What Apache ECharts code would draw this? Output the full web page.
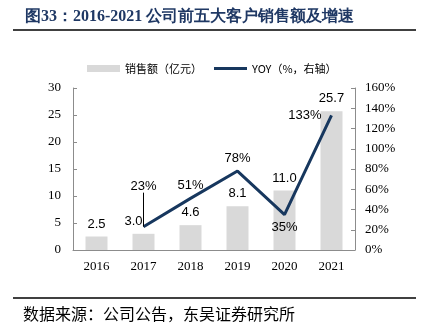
<!DOCTYPE html>
<html><head><meta charset="utf-8">
<script src="https://cdn.jsdelivr.net/npm/echarts@6/dist/echarts.min.js"></script>
<style>html,body{margin:0;padding:0;background:#fff}#c{width:422px;height:331px}</style>
</head><body><div id="c"></div>
<script>
const categories = ['2016','2017','2018','2019','2020','2021'];
const sales = [2.5, 3.0, 4.6, 8.1, 11.0, 25.7];
const yoy = [null, 23, 51, 78, 35, 133];
const leftTicks = [0, 30, 5];
const rightTicks = [0, 160, 20];

const navy = '#17375e';
const axisColor = '#8c8c8c';
const serif = '"Liberation Serif","Times New Roman",serif';
const sans = '"Liberation Sans",Arial,sans-serif';

const barData = sales.map((v, i) => {
  const d = {value: v};
  if (i === 1) d.label = {offset: [-10, 0]};
  return d;
});
const lineLabelPos = [null, 'top', 'top', 'top', 'bottom', 'left'];
const lineData = yoy.map((v, i) => {
  if (v === null) return null;
  const d = {value: v, label: {position: lineLabelPos[i]}};
  if (i === 1) d.labelLine = {show: true};
  if (i === 2) d.label.offset = [-5, 0];
  if (i === 5) d.label.distance = 10;
  return d;
});

const chart = echarts.init(document.getElementById('c'));
chart.setOption({
  animation: false,
  backgroundColor: '#fff',
  title: {
    text: '图33：2016-2021 公司前五大客户销售额及增速',
    left: 20, top: 4,
    textStyle: {color: '#1f3864', fontSize: 16, fontWeight: 'bold', fontFamily: serif}
  },
  graphic: [
    {type: 'line', shape: {x1: 13, y1: 30, x2: 416, y2: 30}, style: {stroke: '#000', lineWidth: 1.5}},
    {type: 'line', shape: {x1: 13, y1: 298, x2: 416, y2: 298}, style: {stroke: '#000', lineWidth: 1.5}},
    {type: 'text', left: 23, top: 306, style: {text: '数据来源：公司公告，东吴证券研究所', fontSize: 16, fill: '#000', fontFamily: '"Noto Sans CJK SC",sans-serif'}}
  ],
  legend: {
    top: 58, left: 82, itemGap: 12,
    textStyle: {fontSize: 11, color: '#000', fontFamily: '"Noto Sans CJK SC",sans-serif'},
    data: [
      {name: '销售额（亿元）', icon: 'rect', itemStyle: {color: '#d9d9d9'}},
      {name: 'YOY（%，右轴）', icon: 'path://M0,0H33V3H0Z', itemStyle: {color: navy}}
    ],
    itemWidth: 33, itemHeight: 7
  },
  grid: {left: 73, right: 67, top: 88, bottom: 81},
  xAxis: {
    type: 'category', data: categories,
    axisLine: {lineStyle: {color: axisColor}},
    axisTick: {inside: true, length: 4, lineStyle: {color: axisColor}},
    axisLabel: {color: '#000', fontSize: 13, fontFamily: serif, margin: 10}
  },
  yAxis: [
    {type: 'value', min: leftTicks[0], max: leftTicks[1], interval: leftTicks[2],
     axisLine: {show: true, lineStyle: {color: axisColor}},
     axisTick: {show: true, inside: true, length: 4, lineStyle: {color: axisColor}},
     splitLine: {show: false},
     axisLabel: {color: '#000', fontSize: 13, fontFamily: serif, margin: 12}},
    {type: 'value', min: rightTicks[0], max: rightTicks[1], interval: rightTicks[2],
     axisLine: {show: true, lineStyle: {color: axisColor}},
     axisTick: {show: true, inside: true, length: 4, lineStyle: {color: axisColor}},
     splitLine: {show: false},
     axisLabel: {color: '#000', fontSize: 13, fontFamily: serif, margin: 10, formatter: '{value}%'}}
  ],
  series: [
    {name: '销售额（亿元）', type: 'bar', data: barData, barWidth: 22,
     itemStyle: {color: '#d9d9d9'},
     label: {show: true, position: 'top', distance: 6, color: '#000', fontSize: 13, fontFamily: sans,
       formatter: p => p.value.toFixed(1)}},
    {name: 'YOY（%，右轴）', type: 'line', yAxisIndex: 1, data: lineData,
     symbol: 'circle', symbolSize: 0.1, showSymbol: true,
     lineStyle: {color: navy, width: 3}, itemStyle: {color: navy},
     label: {show: true, color: '#000', fontSize: 13, fontFamily: sans, distance: 6,
       formatter: p => p.value + '%'},
     labelLayout: p => (p.dataIndex === 1 ? {dy: -28} : {}),
     labelLine: {show: false, lineStyle: {color: '#000', width: 1}}}
  ]
});
</script></body></html>
